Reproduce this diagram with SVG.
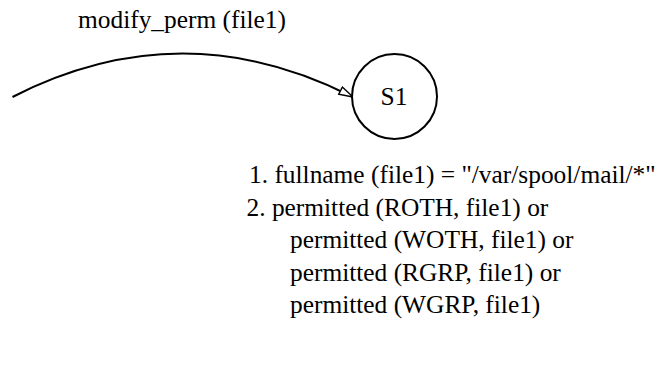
<svg xmlns="http://www.w3.org/2000/svg" width="658" height="375" viewBox="0 0 658 375">
<style>
text{font-family:"Liberation Serif","Times New Roman",serif;font-size:25.4px;fill:#000}
.edge{fill:none;stroke:#000;stroke-width:2}
.node{fill:#fff;stroke:#000;stroke-width:2}
</style>
<defs>
<marker id="arr" viewBox="0 0 16 10" refX="15" refY="5" markerWidth="16" markerHeight="10" markerUnits="userSpaceOnUse" orient="auto">
<path d="M1,1 L15,5 L1,9 Z" fill="#fff" stroke="#000" stroke-width="1.4"/>
</marker>
</defs>
<rect width="658" height="375" fill="#fff"/>
<g id="connectors">
<path class="edge" d="M12.5,97 C126,39 239,39 353,97" marker-end="url(#arr)"/>
<text x="78" y="28">modify_perm (file1)</text>
</g>
<g id="S1">
<circle class="node" cx="394.5" cy="96.5" r="42.5"/>
<text x="394" y="105" text-anchor="middle">S1</text>
</g>
<g id="conditions">
<text x="249" y="183">1. fullname (file1) = "/var/spool/mail/*"</text>
<text x="246.5" y="215.5">2. permitted (ROTH, file1) or</text>
<text x="290" y="248">permitted (WOTH, file1) or</text>
<text x="290" y="280.5">permitted (RGRP, file1) or</text>
<text x="290" y="313">permitted (WGRP, file1)</text>
</g>
</svg>
